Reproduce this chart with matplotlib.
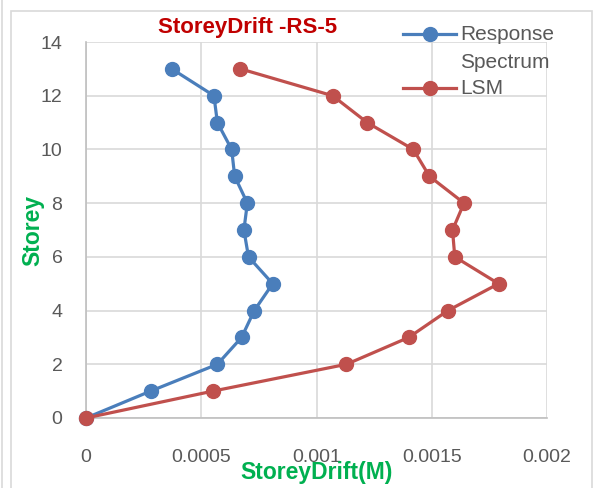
import matplotlib
matplotlib.use("Agg")
import matplotlib.pyplot as plt
from matplotlib.lines import Line2D
from matplotlib.patches import Rectangle

# ── Data ──────────────────────────────────────────────────────────────────────
storey = [0, 1, 2, 3, 4, 5, 6, 7, 8, 9, 10, 11, 12, 13]
drift_rs = [0, 0.00028, 0.00057, 0.000675, 0.00073, 0.00081, 0.000705,
            0.000685, 0.0007, 0.000645, 0.000632, 0.00057, 0.000555, 0.000372]
drift_lsm = [0, 0.00055, 0.00113, 0.0014, 0.00157, 0.00179, 0.0016,
             0.00159, 0.00164, 0.00149, 0.00142, 0.00122, 0.00107, 0.00067]

x_ticks = [0, 0.0005, 0.001, 0.0015, 0.002]
x_tick_labels = ["0", "0.0005", "0.001", "0.0015", "0.002"]
y_ticks = [0, 2, 4, 6, 8, 10, 12, 14]

BLUE = '#4A7EBB'
RED = '#C0504D'
GRID = '#D9D9D9'
TXT = '#595959'

plt.rcParams['font.family'] = ['Liberation Sans', 'DejaVu Sans']

W, H = 603, 488
fig = plt.figure(figsize=(W / 100, H / 100), dpi=100)
fig.patch.set_facecolor('white')

# chart frame
fig.add_artist(Rectangle((11 / W, -0.05), (592 - 11) / W, 1 - 11 / H + 0.05,
                         transform=fig.transFigure, fill=False,
                         ec=GRID, lw=1.2))
fig.add_artist(Line2D([2 / W, 2 / W], [0, 1], transform=fig.transFigure,
                      color=GRID, lw=1.2))

ax = fig.add_axes([86 / W, 1 - 418 / H, (547 - 86) / W, (418 - 42) / H])

ax.plot(drift_rs, storey, color=BLUE, lw=2.3, marker='o', ms=10,
        zorder=4, clip_on=False)
ax.plot(drift_lsm, storey, color=RED, lw=2.3, marker='o', ms=10,
        zorder=5, clip_on=False)

ax.set_xlim(0, 0.002)
ax.set_ylim(0, 14)
ax.set_xticks(x_ticks)
ax.set_xticklabels(x_tick_labels)
ax.set_yticks(y_ticks)
ax.tick_params(axis='both', length=0, labelsize=14, labelcolor=TXT)
ax.tick_params(axis='x', pad=22)
ax.tick_params(axis='y', pad=17)
ax.grid(True, color=GRID, lw=1.2, zorder=0)
ax.set_axisbelow(True)
for side in ['top', 'right']:
    ax.spines[side].set_visible(False)
for side in ['left', 'bottom']:
    ax.spines[side].set_color('#BFBFBF')
    ax.spines[side].set_linewidth(1.2)

ax.set_xlabel("StoreyDrift(M)", fontsize=16.5, fontweight='bold', color='#00B050')
ax.xaxis.set_label_coords(0.5, (418 - 472) / 376)
ax.xaxis.label.set_va('center')
ax.set_ylabel("Storey", fontsize=16.5, fontweight='bold', color='#00B050')
ax.yaxis.set_label_coords((33 - 86) / 461, 0.5)
ax.yaxis.label.set_va('center')

fig.text(248 / W, 1 - 28 / H, "StoreyDrift -RS-5", ha='center', va='center',
         fontsize=16, fontweight='bold', color='#C00000')

# ── Legend (drawn by hand to match the wrapped label) ────────────────────────
for col, y, lines in [(BLUE, 34, [("Response", 35), ("Spectrum", 63)]),
                      (RED, 88, [("LSM", 88)])]:
    fig.add_artist(Line2D([403 / W, 456 / W], [1 - y / H] * 2,
                          transform=fig.transFigure, color=col, lw=2.3))
    fig.add_artist(Line2D([429.5 / W], [1 - y / H], transform=fig.transFigure,
                          color=col, marker='o', ms=10))
    for txt, ty in lines:
        fig.text(460 / W, 1 - ty / H, txt, ha='left', va='center',
                 fontsize=15, color=TXT)

fig.savefig("out.png", dpi=100)
